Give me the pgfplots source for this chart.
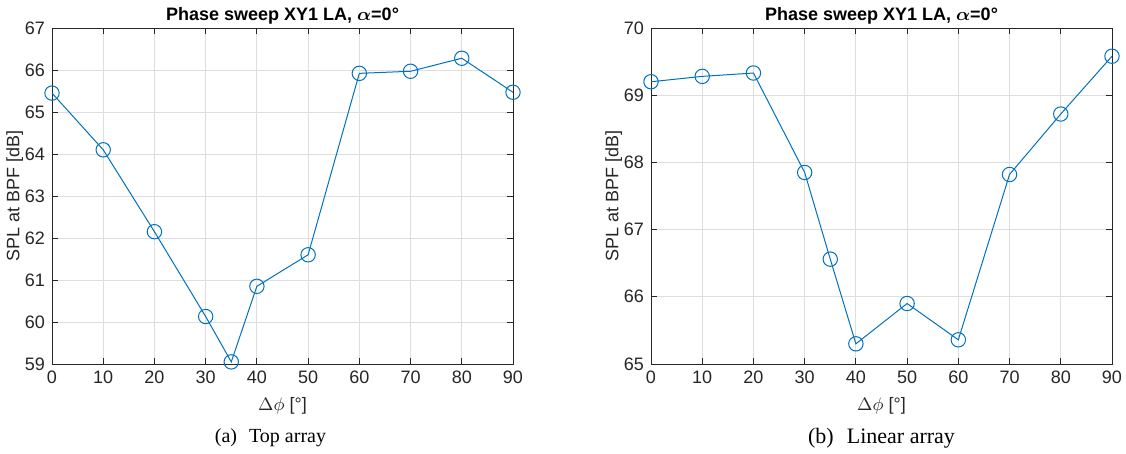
\documentclass[border=0pt]{standalone}
\usepackage{fontspec}
\usepackage{amsmath}
\setmainfont{Liberation Serif}
\setsansfont{Liberation Sans}
\usepackage{pgfplots}
\pgfplotsset{compat=1.18}

\definecolor{mlblue}{RGB}{0,114,189}
\definecolor{axgray}{RGB}{38,38,38}

\pgfplotsset{
  sweep/.style={
    width=230.5pt, height=168pt, scale only axis,
    xmin=0, xmax=90, xtick={0,10,...,90},
    grid=major,
    major grid style={line width=0.4pt, color=black!13},
    tick align=inside,
    major tick length=3pt,
    axis line style={axgray, line width=0.4pt},
    tick style={axgray, line width=0.4pt},
    ticklabel style={font=\sffamily\fontsize{9}{10}\selectfont, text=axgray},
    /pgf/number format/assume math mode=true,
    label style={font=\sffamily\fontsize{9}{10}\selectfont, text=axgray},
    ylabel shift=-6pt,
    title style={font=\sffamily\bfseries\fontsize{9}{10}\selectfont,
      at={(0.5,1)}, anchor=base, yshift=-2.2pt},
    title={Phase sweep XY1 LA, $\boldsymbol{\alpha}$=0°},
    xlabel={$\Delta\phi$ [°]},
    ylabel={SPL at BPF [dB]},
  },
  sweepline/.style={mlblue, line width=0.5pt, mark=o, mark size=3.6pt,
    mark options={fill=none, line width=0.5pt}},
}

\begin{document}
\begin{tikzpicture}
\path[use as bounding box] (-26pt,-45pt) rectangle (537pt,182pt);

% (a) top array
\begin{axis}[sweep, name=left, at={(0,0)}, anchor=south west,
    ymin=59, ymax=67, ytick={59,60,...,67}]
\addplot[sweepline] coordinates {
    (0,65.45) (10,64.10) (20,62.15) (30,60.13) (35,59.05) (40,60.85)
    (50,61.60) (60,65.92) (70,65.97) (80,66.28) (90,65.47)
};
\end{axis}

% (b) linear array
\begin{axis}[sweep, name=right, at={(299.5pt,0)}, anchor=south west,
    ymin=65, ymax=70, ytick={65,66,...,70}]
\addplot[sweepline] coordinates {
    (0,69.20) (10,69.28) (20,69.33) (30,67.85) (35,66.56) (40,65.30)
    (50,65.90) (60,65.36) (70,67.82) (80,68.72) (90,69.58)
};
\end{axis}

% subfigure captions
\node[font=\rmfamily\fontsize{10}{12}\selectfont] at ([xshift=-6pt,yshift=-37pt]left.south) {(a)\hspace{0.6em}Top array};
\node[font=\rmfamily\fontsize{11}{13}\selectfont] at ([yshift=-37pt]right.south) {(b)\hspace{0.6em}Linear array};
\end{tikzpicture}
\end{document}
